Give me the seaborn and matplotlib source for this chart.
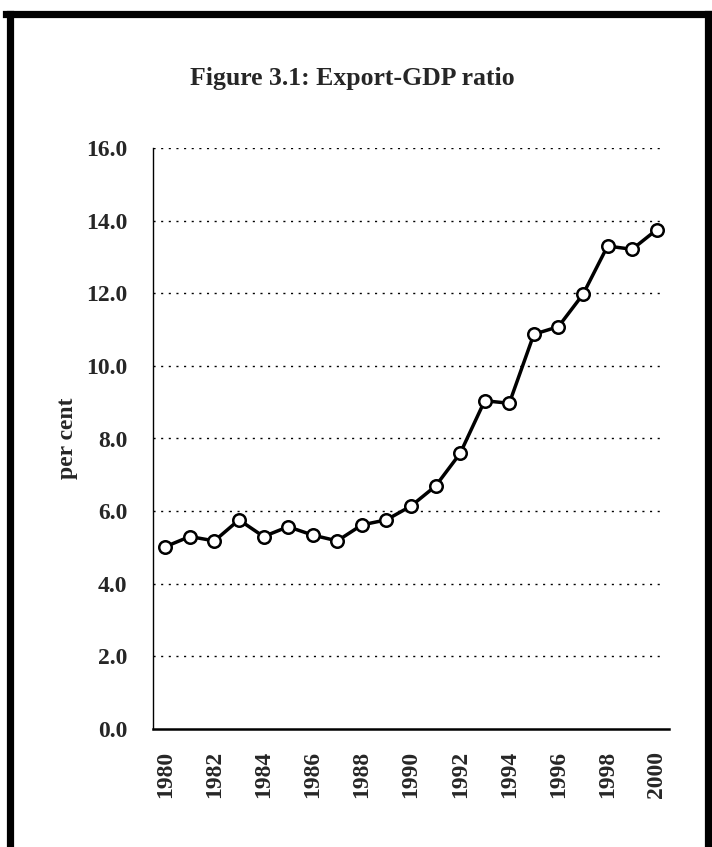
import numpy as np
import matplotlib
matplotlib.use('Agg')
import matplotlib.pyplot as plt
from matplotlib.lines import Line2D
import seaborn as sns

# Export-GDP ratio, per cent
years = list(range(1980, 2001))
ratio = [5.02, 5.30, 5.18, 5.76, 5.30, 5.57, 5.34, 5.18, 5.62, 5.76,
         6.14, 6.69, 7.59, 9.04, 8.97, 10.87, 11.08, 11.97, 13.30, 13.21, 13.75]
y_ticks = [0, 2, 4, 6, 8, 10, 12, 14, 16]
title = 'Figure 3.1: Export-GDP ratio'
y_label = 'per cent'

sns.set_style('white')
plt.rcParams['font.family'] = ['Liberation Serif', 'DejaVu Serif']
plt.rcParams['font.weight'] = 'bold'

fig = plt.figure(figsize=(7.12, 8.47), dpi=100)
ax = fig.add_axes([153 / 712, 1 - 729 / 847, (669 - 153) / 712, (729 - 148) / 847])

pos = np.arange(len(years))
sns.lineplot(x=pos, y=ratio, ax=ax, color='black', linewidth=2.5,
             marker='o', markersize=9, markerfacecolor='white',
             markeredgecolor='black', markeredgewidth=1.8)

ax.set_xlim(-0.5, len(years) - 0.5)
ax.set_ylim(0, 16)
ax.set_yticks(y_ticks)
ax.set_yticklabels([f'{v:.1f}' for v in y_ticks], fontsize=17, fontweight='bold')
ax.set_xticks(pos[::2])
ax.set_xticklabels([str(y) for y in years[::2]], rotation=90, fontsize=17,
                   fontweight='bold')
ax.set_xticks(np.arange(-0.5, len(years), 1.0), minor=True)
ax.tick_params(axis='x', which='major', length=0, pad=16)
ax.tick_params(axis='x', which='minor', length=6, width=1, direction='out', color='black')
ax.tick_params(axis='y', length=9, width=1, direction='inout', color='black', pad=14)

# dotted gridlines, stopping just short of the axis end as in the scan
ax.hlines(y_ticks[1:], -0.5, len(years) - 0.85, colors='black', linewidth=1.0,
          linestyles=[(0, (1.5, 4))], zorder=0)

for s in ['top', 'right']:
    ax.spines[s].set_visible(False)
ax.spines['left'].set_color('black')
ax.spines['left'].set_linewidth(1.0)
ax.spines['bottom'].set_color('black')
ax.spines['bottom'].set_linewidth(1.8)

ax.set_xlabel('')
ax.set_ylabel(y_label, fontsize=17, fontweight='bold', labelpad=6)

fig.text(0.495, 1 - 79 / 847, title, ha='center', va='center',
         fontsize=18.5, fontweight='bold')

# thick scanned frame (left, top, right)
W, H = 712, 847
for xs, ys in [([9.5, 9.5], [H - 14, -5]),
               ([6, 710], [H - 14, H - 14]),
               ([707.5, 707.5], [H - 14, -5])]:
    fig.add_artist(Line2D([x / W for x in xs], [y / H for y in ys],
                          color='black', linewidth=5.2, transform=fig.transFigure,
                          solid_capstyle='projecting'))

fig.savefig('out.png', dpi=100)
